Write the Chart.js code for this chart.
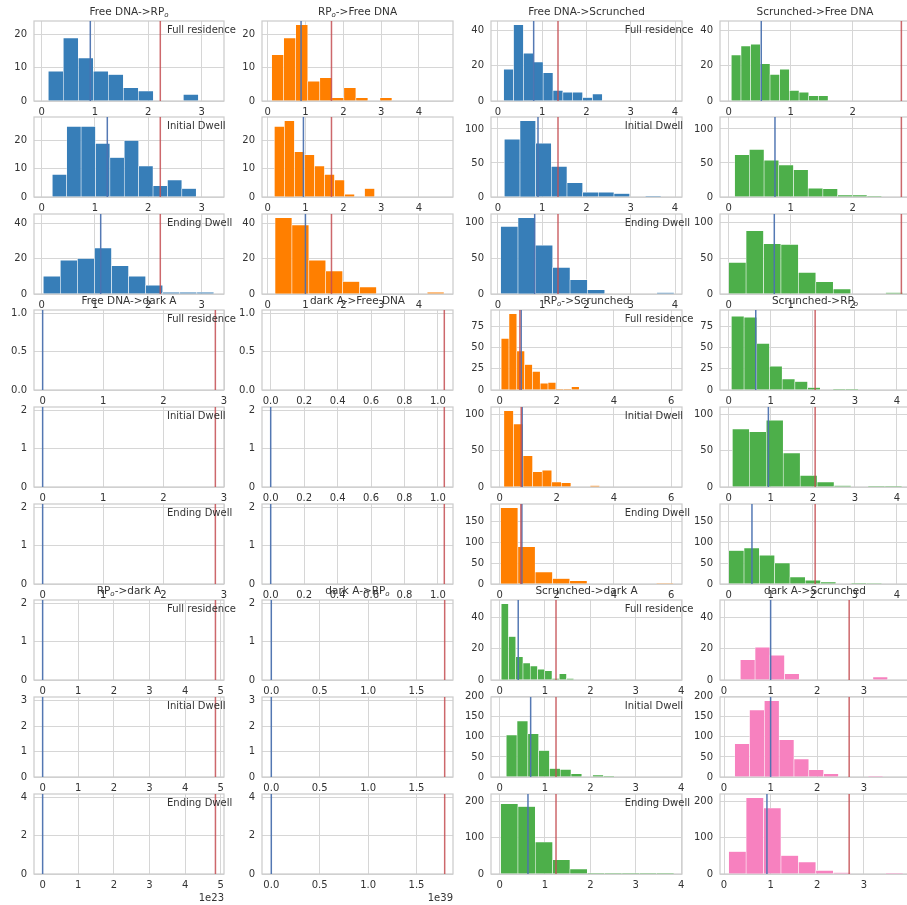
<!DOCTYPE html>
<html>
<head>
<meta charset="utf-8">
<script src="https://cdn.jsdelivr.net/npm/chart.js@4.4.1/dist/chart.umd.min.js"></script>
<style>
  html, body { margin: 0; padding: 0; background: #fff; overflow: hidden; }
  #grid { position: relative; width: 907px; height: 905px; overflow: hidden; }
  #grid canvas { position: absolute; }
</style>
</head>
<body>
<div id="grid"></div>
<script>
// transitions per block of three rows; "_o" marks the subscript in RP_o
const transitionNames = [
  ["Free DNA->RP_o", "RP_o->Free DNA", "Free DNA->Scrunched", "Scrunched->Free DNA"],
  ["Free DNA->dark A", "dark A->Free DNA", "RP_o->Scrunched", "Scrunched->RP_o"],
  ["RP_o->dark A", "dark A->RP_o", "Scrunched->dark A", "dark A->Scrunched"]
];
const dwellNames = ["Full residence", "Initial Dwell", "Ending Dwell"];

// left edge of the first bin, one row per panel row
const binStart = [
  [0.124, 0.106, 0.128, 0.043],
  [0.199, 0.177, 0.143, 0.097],
  [0.030, 0.194, 0.060, 0.000],
  [null, null, 0.056, 0.063],
  [null, null, 0.150, 0.087],
  [null, null, 0.035, 0.000],
  [null, null, 0.035, 0.350],
  [null, null, 0.146, 0.229],
  [null, null, 0.022, 0.100]
];
const binWidth = [
  [0.2815, 0.318, 0.223, 0.156],
  [0.270, 0.265, 0.354, 0.237],
  [0.320, 0.447, 0.392, 0.281],
  [null, null, 0.273, 0.302],
  [null, null, 0.335, 0.403],
  [null, null, 0.605, 0.364],
  [null, null, 0.160, 0.316],
  [null, null, 0.238, 0.318],
  [null, null, 0.382, 0.374]
];
const binCounts = [
  [[9, 19, 13, 9, 8, 4, 3, 0, 0, 2], [14, 19, 23, 6, 7, 1, 4, 1, 0, 1], [18, 43, 27, 22, 16, 6, 5, 5, 2, 4], [26, 31, 32, 21, 15, 18, 6, 5, 3, 3]],
  [[8, 25, 25, 19, 14, 20, 11, 4, 6, 3], [25, 27, 16, 15, 11, 8, 6, 1, 0, 3], [85, 112, 79, 45, 21, 7, 7, 5, 0, 1], [62, 70, 54, 47, 40, 13, 12, 3, 3, 1]],
  [[10, 19, 20, 26, 16, 10, 5, 1, 1, 1], [43, 39, 19, 13, 7, 4, 0, 0, 0, 1], [94, 106, 68, 37, 20, 6, 0, 0, 0, 2], [44, 88, 70, 69, 30, 17, 7, 0, 0, 2]],
  [null, null, [61, 90, 46, 30, 22, 8, 9, 1, 1, 4], [87, 86, 55, 28, 13, 10, 3, 0, 1, 1]],
  [null, null, [105, 87, 43, 21, 23, 7, 6, 0, 0, 2], [80, 76, 92, 47, 16, 7, 2, 0, 1, 1]],
  [null, null, [182, 89, 29, 13, 8, 0, 0, 0, 0, 1], [80, 86, 69, 50, 17, 9, 5, 0, 2, 1]],
  [null, null, [49, 28, 15, 11, 9, 7, 6, 1, 4, 1], [13, 21, 16, 4, 0, 0, 0, 0, 0, 2]],
  [null, null, [105, 140, 108, 66, 21, 19, 8, 0, 5, 1], [83, 167, 190, 93, 45, 18, 8, 0, 0, 1]],
  [null, null, [194, 186, 88, 39, 14, 3, 1, 3, 1, 1], [62, 210, 182, 51, 33, 10, 4, 0, 0, 1]]
];

// blue: mean dwell, red: cutoff
const meanLine = [
  [0.912, 0.883, 0.806, 0.526],
  [1.231, 0.945, 0.904, 0.747],
  [1.107, 0.998, 0.829, 0.736],
  [0, null, 0.756, 0.643],
  [0, 0, 0.790, 0.943],
  [0, 0, 0.780, 0.553],
  [0, 0, 0.410, 1.000],
  [0, 0, 0.684, 1.000],
  [0, 0, 0.625, 0.921]
];
const cutoffLine = [
  [2.225, 1.687, 1.356, 2.784],
  [2.225, 1.687, 1.356, 2.784],
  [2.225, 1.687, 1.356, 2.784],
  [2.857, 1.038, 0.710, 2.055],
  [2.857, 1.038, 0.756, 2.055],
  [2.857, 1.038, 0.745, 2.055],
  [4.85, 1.791, 1.243, 2.685],
  [4.85, 1.791, 1.243, 2.685],
  [4.85, 1.791, 1.243, 2.685]
];

// x axes are shared within each block of three rows
const xLimits = [
  [[-0.144, 3.42], [-0.15, 4.9], [-0.158, 4.158], [-0.139, 2.923]],
  [[-0.143, 3.0], [-0.052, 1.09], [-0.30, 6.38], [-0.207, 4.31]],
  [[-0.2425, 5.09], [-0.096, 1.877], [-0.19, 4.02], [-0.086, 3.99]]
];
const xTickLabels = [
  [["0", "1", "2", "3"], ["0", "1", "2", "3", "4"], ["0", "1", "2", "3", "4"], ["0", "1", "2"]],
  [["0", "1", "2", "3"], ["0.0", "0.2", "0.4", "0.6", "0.8", "1.0"], ["0", "2", "4", "6"], ["0", "1", "2", "3", "4"]],
  [["0", "1", "2", "3", "4", "5"], ["0.0", "0.5", "1.0", "1.5"], ["0", "1", "2", "3", "4"], ["0", "1", "2", "3"]]
];
const xOffsetText = ["1e23", "1e39"];

// y axes are shared by column pairs (1-2 and 3-4)
const yMax = [
  [24.15, 45.15],
  [28.35, 117.6],
  [45.15, 111.3],
  [1.05, 94.5],
  [2.1, 110.25],
  [2.1, 191.1],
  [2.1, 51.45],
  [3.15, 199.5],
  [4.2, 220.5]
];
const yTickLabels = [
  [["0", "10", "20"], ["0", "20", "40"]],
  [["0", "10", "20"], ["0", "50", "100"]],
  [["0", "20", "40"], ["0", "50", "100"]],
  [["0.0", "0.5", "1.0"], ["0", "25", "50", "75"]],
  [["0", "1", "2"], ["0", "50", "100"]],
  [["0", "1", "2"], ["0", "50", "100", "150"]],
  [["0", "1", "2"], ["0", "20", "40"]],
  [["0", "1", "2", "3"], ["0", "50", "100", "150", "200"]],
  [["0", "2", "4"], ["0", "100", "200"]]
];

const stateColors = { "Free DNA": "#377eb8", "RP_o": "#ff7f00", "Scrunched": "#4daf4a", "dark A": "#f781bf" };
const FONT = "'DejaVu Sans', sans-serif";
const TEXT = "#333333";
const GRID = "#d6d6d6";

const colLeft = [34, 262, 491, 720];
const colWidth = [190, 191, 191, 190];
const plotH = 80;

Chart.defaults.font.family = FONT;
Chart.defaults.font.size = 10;
Chart.defaults.color = TEXT;

// draws "RP_o" style labels with a small italic subscript
function drawLabel(ctx, text, x, y, size, align) {
  const parts = text.split("_o");
  const mainFont = `${size}px ${FONT}`;
  const subFont = `italic ${Math.round(size * 0.7)}px ${FONT}`;
  const segs = [];
  parts.forEach((p, i) => {
    if (p) segs.push({ t: p, f: mainFont, dy: 0 });
    if (i < parts.length - 1) segs.push({ t: "o", f: subFont, dy: size * 0.22 });
  });
  let total = 0;
  segs.forEach(s => { ctx.font = s.f; s.w = ctx.measureText(s.t).width; total += s.w; });
  let cx = align === "center" ? x - total / 2 : align === "right" ? x - total : x;
  ctx.textAlign = "left";
  ctx.textBaseline = "alphabetic";
  segs.forEach(s => {
    ctx.font = s.f;
    ctx.fillText(s.t, cx, y + s.dy);
    cx += s.w;
  });
}

function panelDecor(r, c, title) {
  return {
    id: "panelDecor",
    beforeDatasetsDraw(chart) {
      const { ctx, chartArea: a } = chart;
      ctx.save();
      ctx.strokeStyle = "#cccccc";
      ctx.lineWidth = 1.25;
      ctx.strokeRect(a.left, a.top, a.right - a.left, a.bottom - a.top);
      ctx.restore();
    },
    afterDatasetsDraw(chart) {
      const { ctx, chartArea: a, scales } = chart;
      ctx.save();
      ctx.beginPath();
      ctx.rect(a.left, a.top, a.right - a.left, a.bottom - a.top);
      ctx.clip();
      [[meanLine[r][c], "rgba(76,114,176,0.95)"], [cutoffLine[r][c], "rgba(196,78,82,0.85)"]].forEach(([v, col]) => {
        if (v === null) return;
        const px = scales.x.getPixelForValue(v);
        ctx.strokeStyle = col;
        ctx.lineWidth = 1.5;
        ctx.beginPath();
        ctx.moveTo(px, a.top);
        ctx.lineTo(px, a.bottom);
        ctx.stroke();
      });
      ctx.restore();

      ctx.save();
      ctx.fillStyle = TEXT;
      if (c % 2 === 0) {
        drawLabel(ctx, dwellNames[r % 3], a.left + 0.7 * (a.right - a.left), a.top + 12, 10, "left");
      }
      if (title) {
        drawLabel(ctx, title, (a.left + a.right) / 2, a.top - 6, 10.5, "center");
      }
      if (r === 8 && c < 2) {
        drawLabel(ctx, xOffsetText[c], a.right, a.bottom + 27, 10, "right");
      }
      ctx.restore();
    }
  };
}

const host = document.getElementById("grid");

function makePanel(r, c) {
  const g = Math.floor(r / 3);
  const name = transitionNames[g][c];
  const color = stateColors[name.split("->")[0]];
  const plotLeft = colLeft[c];
  const plotTop = Math.round(20.7 + 96.6 * r);
  const plotW = colWidth[c];
  const padL = 42, padT = 22, padR = 20, padB = r === 8 ? 34 : 20;
  const W = plotW + padL + padR, H = plotH + padT + padB;

  const cv = document.createElement("canvas");
  cv.width = W;
  cv.height = H;
  cv.style.left = (plotLeft - padL) + "px";
  cv.style.top = (plotTop - padT) + "px";
  cv.style.width = W + "px";
  cv.style.height = H + "px";
  host.appendChild(cv);

  const bars = [];
  const counts = binCounts[r][c];
  if (counts) {
    counts.forEach((n, i) => bars.push({ x: binStart[r][c] + (i + 0.5) * binWidth[r][c], y: n }));
  }

  const xl = xLimits[g][c];
  const xLabels = xTickLabels[g][c];
  const yLabels = yTickLabels[r][c >> 1];

  new Chart(cv, {
    type: "bar",
    data: {
      datasets: [{
        data: bars,
        backgroundColor: color,
        borderColor: "rgba(255,255,255,0.75)",
        borderWidth: 0.6,
        barPercentage: 1,
        categoryPercentage: 1,
        grouped: false
      }]
    },
    options: {
      responsive: false,
      animation: false,
      events: [],
      layout: { padding: { left: 0, top: padT, right: padR, bottom: 0 } },
      plugins: { legend: { display: false }, tooltip: { enabled: false } },
      scales: {
        x: {
          type: "linear",
          min: xl[0],
          max: xl[1],
          offset: false,
          grid: { color: GRID, lineWidth: 1, drawTicks: false, offset: false },
          border: { display: false },
          ticks: { padding: 5, autoSkip: false, maxRotation: 0, minRotation: 0, callback: (v, i) => xLabels[i] },
          afterBuildTicks: s => { s.ticks = xLabels.map(t => ({ value: parseFloat(t) })); },
          afterFit: s => {
            s.height = padB;
            s.paddingLeft = s.paddingRight = s.paddingTop = s.paddingBottom = 0;
          }
        },
        y: {
          type: "linear",
          min: 0,
          max: yMax[r][c >> 1],
          grid: { color: GRID, lineWidth: 1, drawTicks: false },
          border: { display: false },
          ticks: { padding: 7, autoSkip: false, callback: (v, i) => yLabels[i] },
          afterBuildTicks: s => { s.ticks = yLabels.map(t => ({ value: parseFloat(t) })); },
          afterFit: s => {
            s.width = padL;
            s.paddingLeft = s.paddingRight = s.paddingTop = s.paddingBottom = 0;
          }
        }
      }
    },
    plugins: [panelDecor(r, c, r % 3 === 0 ? name : null)]
  });
}

for (let r = 0; r < 9; r++) {
  for (let c = 0; c < 4; c++) makePanel(r, c);
}
</script>
</body>
</html>
